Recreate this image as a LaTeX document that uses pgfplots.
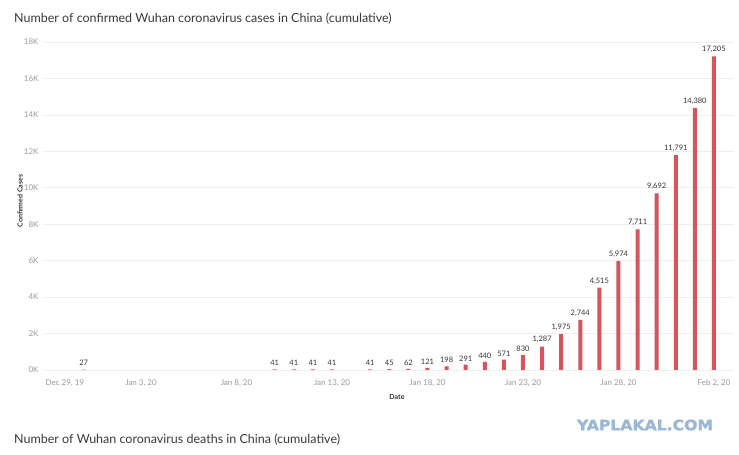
\documentclass[border=0pt]{standalone}
\usepackage{pgfplots}
\pgfplotsset{compat=1.18}
\usepackage{fontspec}
\setmainfont{Lato}
\newfontfamily\wmfont{DejaVu Sans}[BoldFeatures={FakeBold=1.6}]
\definecolor{barred}{HTML}{D4565D}
\definecolor{titlegray}{HTML}{3A3A3A}
\definecolor{tickgray}{HTML}{9A9A9A}
\definecolor{valgray}{HTML}{333333}
\definecolor{gridgray}{HTML}{EEEEEE}
\definecolor{wmblue}{HTML}{9AB8D4}
\pgfplotstableread{
d v
2 27
12 41
13 41
14 41
15 41
17 41
18 45
19 62
20 121
21 198
22 291
23 440
24 571
25 830
26 1287
27 1975
28 2744
29 4515
30 5974
31 7711
32 9692
33 11791
34 14380
35 17205
}\cases
\begin{document}
\begin{tikzpicture}
\path[fill=white] (0pt,0pt) rectangle (739pt,455pt);
\node[anchor=base west, inner sep=0, text=titlegray, font=\fontsize{12.5}{15}\selectfont] at (14pt,432pt) {Number of confirmed Wuhan coronavirus cases in China (cumulative)};
\node[anchor=base west, inner sep=0, text=titlegray, font=\fontsize{12.5}{15}\selectfont] at (14pt,11pt) {Number of Wuhan coronavirus deaths in China (cumulative)};
\node[rotate=90, text=valgray, font=\bfseries\fontsize{7}{8}\selectfont] at (20pt,254pt) {Confirmed Cases};
\node[text=valgray, font=\bfseries\fontsize{7}{8}\selectfont] at (397pt,58pt) {Date};
\node[text=wmblue, inner sep=0] at (645pt,30pt) {\resizebox{136pt}{10.5pt}{\wmfont\bfseries YAPLAKAL.COM}};
\begin{axis}[
  at={(44pt,85pt)}, anchor=south west,
  scale only axis, width=690pt, height=328pt,
  xmin=-0.08, xmax=36.05, ymin=0, ymax=18000,
  axis line style={draw=none},
  major tick length=0pt,
  scaled y ticks=false,
  ymajorgrids, grid style={gridgray, line width=0.6pt},
  ytick={0,2000,4000,6000,8000,10000,12000,14000,16000,18000},
  yticklabels={0K,2K,4K,6K,8K,10K,12K,14K,16K,18K},
  xtick={0,5,10,15,20,25,30,35},
  xticklabels={\makebox[0pt][l]{Dec 29, 19},{Jan 3, 20},{Jan 8, 20},{Jan 13, 20},{Jan 18, 20},{Jan 23, 20},{Jan 28, 20},{Feb 2, 20}},
  tick label style={text=tickgray, font=\fontsize{8}{9}\selectfont},
  yticklabel style={xshift=-2pt},
  xticklabel style={yshift=-6.5pt},
  ybar, bar width=4pt,
  nodes near coords,
  nodes near coords style={text=valgray, font=\fontsize{7.5}{9}\selectfont, /pgf/number format/.cd, fixed, precision=0, 1000 sep={,}, assume math mode=true},
  clip=false,
]
\addplot[fill=barred, draw=none] table[x=d, y=v] {\cases};
\end{axis}
\end{tikzpicture}
\end{document}
